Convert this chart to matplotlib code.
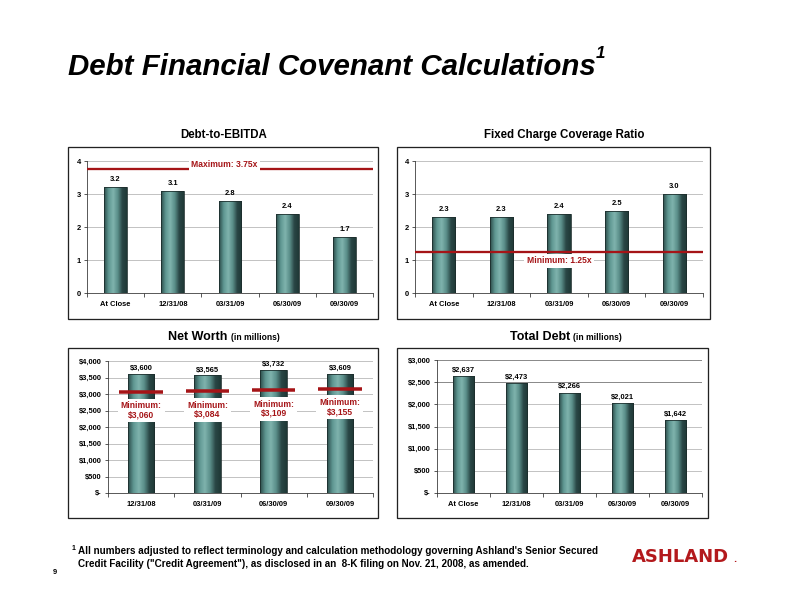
import numpy as np
import matplotlib
matplotlib.use('Agg')
import matplotlib.pyplot as plt
from matplotlib.patches import Rectangle
from matplotlib.colors import LinearSegmentedColormap

plt.rcParams['font.family'] = ['Liberation Sans', 'DejaVu Sans']
plt.rcParams['font.weight'] = 'bold'

# ---- data ----
cats5 = ['At Close', '12/31/08', '03/31/09', '06/30/09', '09/30/09']
cats4 = ['12/31/08', '03/31/09', '06/30/09', '09/30/09']

ebitda = [3.2, 3.1, 2.8, 2.4, 1.7]
ebitda_max = 3.75

fccr = [2.3, 2.3, 2.4, 2.5, 3.0]
fccr_min = 1.25

net_worth = [3600, 3565, 3732, 3609]
net_worth_min = [3060, 3084, 3109, 3155]

total_debt = [2637, 2473, 2266, 2021, 1642]

W, H = 792, 612
RED = '#a51417'
grad = LinearSegmentedColormap.from_list(
    'bar', ['#2c4c4a', '#5f9792', '#7fb3ad', '#5b8f8a', '#2a4746', '#1f3836'])

fig = plt.figure(figsize=(W / 72, H / 72), dpi=72)


def px_axes(x0, y0, x1, y1):
    return fig.add_axes([x0 / W, 1 - y1 / H, (x1 - x0) / W, (y1 - y0) / H])


def box(x0, y0, x1, y1):
    fig.patches.append(Rectangle((x0 / W, 1 - y1 / H), (x1 - x0) / W, (y1 - y0) / H,
                                 transform=fig.transFigure, fill=False,
                                 edgecolor='#222222', lw=1.3))


def setup(ax, cats, ymax, step, fmt, dark_grid=()):
    n = len(cats)
    ax.set_xlim(-0.5, n - 0.5)
    ax.set_ylim(0, ymax)
    ticks = np.arange(0, ymax + step / 2, step)
    ax.set_yticks(ticks)
    ax.set_yticklabels([fmt(t) for t in ticks], fontsize=7.5)
    ax.set_xticks(range(n))
    ax.set_xticklabels(cats, fontsize=7.5)
    ax.set_xticks(np.arange(-0.5, n, 1), minor=True)
    ax.tick_params(axis='x', which='major', length=0, pad=8)
    ax.tick_params(axis='x', which='minor', length=4, width=0.8, color='#333333')
    ax.tick_params(axis='y', length=3, width=0.8, color='#333333', pad=3)
    for t in ticks[1:]:
        c = '#6e6e6e' if t in dark_grid else '#b5b5b5'
        ax.axhline(t, color=c, lw=0.8, zorder=0)
    for s in ['top', 'right']:
        ax.spines[s].set_visible(False)
    for s in ['left', 'bottom']:
        ax.spines[s].set_color('#333333')
        ax.spines[s].set_linewidth(0.8)
    ax.set_facecolor('none')


def bars(ax, vals):
    bs = ax.bar(range(len(vals)), vals, width=0.4, facecolor='none',
                edgecolor='#1c2c2b', lw=0.8, zorder=3)
    img = np.linspace(0, 1, 64).reshape(1, -1)
    for b in bs:
        x0, y0 = b.get_x(), b.get_y()
        im = ax.imshow(img, cmap=grad, aspect='auto', zorder=2,
                       extent=(x0, x0 + b.get_width(), y0, y0 + b.get_height()))
        im.set_clip_path(b)
    ax.set_xlim(-0.5, len(vals) - 0.5)
    return bs


def value_labels(ax, vals, fmt, off):
    for i, v in enumerate(vals):
        ax.text(i, v + off, fmt(v), ha='center', va='bottom', fontsize=7.5, zorder=5)


# ---- title ----
fig.text(68 / W, 1 - 75 / H, 'Debt Financial Covenant Calculations', fontsize=29.5,
         style='italic', weight='bold', ha='left', va='baseline')
fig.text(596 / W, 1 - 58 / H, '1', fontsize=17, style='italic', weight='bold',
         ha='left', va='baseline')

# ---- Debt-to-EBITDA ----
box(68, 147, 378, 319)
ax = px_axes(87, 161, 373, 293)
setup(ax, cats5, 4, 1, lambda t: '%d' % t)
bars(ax, ebitda)
value_labels(ax, ebitda, lambda v: '%.1f' % v, 0.12)
ax.axhline(ebitda_max, color=RED, lw=2.3, zorder=4)
ax.text(1.9, 3.9, 'Maximum: %.2fx' % ebitda_max, color=RED, fontsize=8.5, ha='center',
        va='center', zorder=6,
        bbox=dict(facecolor='white', edgecolor='none', pad=2))
fig.text(224 / W, 1 - 135 / H, 'Debt-to-EBITDA', fontsize=11.5, ha='center', va='center')

# ---- Fixed Charge Coverage Ratio ----
box(397, 147, 710, 319)
ax = px_axes(415, 161, 703, 293)
setup(ax, cats5, 4, 1, lambda t: '%d' % t)
bars(ax, fccr)
value_labels(ax, fccr, lambda v: '%.1f' % v, 0.12)
ax.axhline(fccr_min, color=RED, lw=2.3, zorder=4)
ax.text(2, 0.97, 'Minimum: %.2fx' % fccr_min, color=RED, fontsize=8.5, ha='center',
        va='center', zorder=6,
        bbox=dict(facecolor='white', edgecolor='none', pad=3))
fig.text(564 / W, 1 - 135 / H, 'Fixed Charge Coverage Ratio', fontsize=11.5,
         ha='center', va='center')


def dollars(t):
    return '$-' if t == 0 else '${:,.0f}'.format(t)


# ---- Net Worth ----
box(68, 348, 378, 518)
ax = px_axes(108, 361, 373, 493)
setup(ax, cats4, 4000, 500, dollars)
bars(ax, net_worth)
value_labels(ax, net_worth, dollars, 60)
for i, m in enumerate(net_worth_min):
    ax.plot([i - 0.33, i + 0.33], [m, m], color=RED, lw=3.5, zorder=4,
            solid_capstyle='butt')
    ax.text(i, m - 560, 'Minimum:\n' + dollars(m), color=RED, fontsize=8.5,
            ha='center', va='center', linespacing=1.0, zorder=6,
            bbox=dict(facecolor='white', edgecolor='none', pad=3))
fig.text(227 / W, 1 - 337 / H, 'Net Worth', fontsize=12.5, ha='right', va='center')
fig.text(231 / W, 1 - 338 / H, '(in millions)', fontsize=8.5, ha='left', va='center')

# ---- Total Debt ----
box(397, 348, 708, 518)
ax = px_axes(437, 360, 702, 493)
setup(ax, cats5, 3000, 500, dollars, dark_grid=(2500, 3000))
bars(ax, total_debt)
value_labels(ax, total_debt, dollars, 60)
fig.text(570 / W, 1 - 337 / H, 'Total Debt', fontsize=12.5, ha='right', va='center')
fig.text(573 / W, 1 - 338 / H, '(in millions)', fontsize=8.5, ha='left', va='center')

# ---- footnote ----
fig.text(72 / W, 1 - 548 / H, '1', fontsize=7, ha='left', va='center')
fig.text(78 / W, 1 - 551 / H,
         "All numbers adjusted to reflect terminology and calculation methodology "
         "governing Ashland's Senior Secured", fontsize=9.9, ha='left', va='center')
fig.text(78 / W, 1 - 564 / H,
         'Credit Facility ("Credit Agreement"), as disclosed in an  8-K filing on '
         'Nov. 21, 2008, as amended.', fontsize=9.9, ha='left', va='center')
fig.text(53 / W, 1 - 572 / H, '9', fontsize=7.5, ha='left', va='center')
fig.text(632 / W, 1 - 562 / H, 'ASHLAND', fontsize=18, color='#b3191c',
         family=['DejaVu Sans'], weight='bold', ha='left', va='baseline')
fig.text(733 / W, 1 - 562 / H, '.', fontsize=8, color='#b3191c',
         family=['DejaVu Sans'], ha='left', va='baseline')

fig.savefig('out.png', dpi=72)
